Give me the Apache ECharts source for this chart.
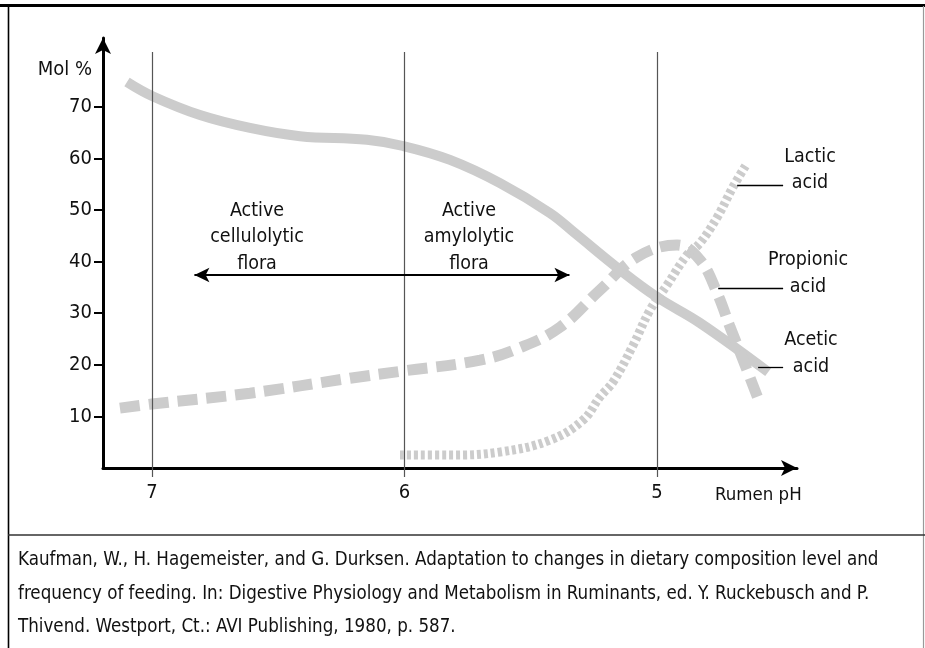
<!DOCTYPE html>
<html><head><meta charset="utf-8">
<script src="https://cdn.jsdelivr.net/npm/echarts@6/dist/echarts.min.js"></script>
<style>html,body{margin:0;padding:0;background:#fff}#c{width:925px;height:648px}</style>
</head><body><div id="c"></div>
<script>
// ---------- data ----------
const phTicks = [7, 6, 5];
const molTicks = [10, 20, 30, 40, 50, 60, 70];

const aceticPH  = [7.099, 7.0, 6.81, 6.612, 6.414, 6.149, 6.006, 5.82, 5.622, 5.424, 5.325, 5.147, 5.0, 4.83, 4.56];
const aceticMol = [74.8, 72.1, 68.4, 65.9, 64.3, 63.6, 62.4, 59.7, 55.2, 49.4, 45.5, 38.4, 33.1, 28.1, 18.6];

const propionicPH  = [7.127, 7.0, 6.612, 6.216, 6.006, 5.701, 5.543, 5.384, 5.226, 5.079, 4.921, 4.83, 4.762, 4.711, 4.659, 4.592];
const propionicMol = [11.6, 12.4, 14.5, 17.4, 18.8, 20.9, 23.3, 27.3, 34.5, 40.9, 43.2, 40.3, 33.9, 27.3, 20.9, 12.4];

const lacticPH  = [6.018, 5.82, 5.622, 5.424, 5.293, 5.226, 5.174, 5.095, 5.028, 4.96, 4.881, 4.83, 4.762, 4.699, 4.648];
const lacticMol = [2.5, 2.5, 3.1, 5.4, 9.3, 13.8, 16.7, 23.8, 30.6, 35.5, 41.3, 43.6, 48.6, 54.5, 58.7];

const guideTop = 80.6;                 // top of the vertical pH guide lines
const floraArrow = { fromPH: 6.832, toPH: 5.347, mol: 37.4 };
const leaders = [
  { name: 'Lactic acid',    fromPH: 4.683, toPH: 4.501, mol: 54.8 },
  { name: 'Propionic acid', fromPH: 4.758, toPH: 4.501, mol: 34.9 },
  { name: 'Acetic acid',    fromPH: 4.600, toPH: 4.501, mol: 19.6 }
];

const citation = [
  'Kaufman, W., H. Hagemeister, and G. Durksen. Adaptation to changes in dietary composition level and',
  'frequency of feeding. In: Digestive Physiology and Metabolism in Ruminants, ed. Y. Ruckebusch and P.',
  'Thivend. Westport, Ct.: AVI Publishing, 1980, p. 587.'
];

// ---------- chart ----------
const FONT = '"Liberation Sans Narrow","DejaVu Sans Condensed","Liberation Sans",sans-serif';
const CURVE = '#cccccc';
const zip = (a, b) => a.map((v, i) => [v, b[i]]);
const txt = (s, x, y, align, size, lh) => ({
  type: 'text', x: x, y: y, z: 50,
  style: { text: s, fill: '#111', font: size + 'px ' + FONT, textAlign: align, textVerticalAlign: 'middle', lineHeight: lh || size }
});

const chart = echarts.init(document.getElementById('c'), null, { renderer: 'canvas' });
chart.setOption({
  animation: false,
  backgroundColor: '#fff',
  grid: { left: 103, top: 38, width: 694, height: 430, containLabel: false },
  xAxis: {
    type: 'value', inverse: true, min: 4.446, max: 7.194,
    axisLine: { show: true, onZero: false, lineStyle: { color: '#000', width: 3 }, symbol: ['none', 'arrow'], symbolSize: [12, 16] },
    axisTick: { show: true, length: 9, inside: false, lineStyle: { color: '#555', width: 1.2 }, customValues: phTicks },
    axisLabel: { show: true, margin: 15, fontSize: 20, color: '#111', fontFamily: FONT, customValues: phTicks, formatter: v => String(v) },
    splitLine: { show: false }
  },
  yAxis: {
    type: 'value', min: 0, max: 83.33,
    axisLine: { show: true, onZero: false, lineStyle: { color: '#000', width: 3 }, symbol: ['none', 'arrow'], symbolSize: [12, 16] },
    axisTick: { show: true, length: 9, inside: false, lineStyle: { color: '#000', width: 2 }, customValues: molTicks },
    axisLabel: { show: true, margin: 11, fontSize: 20, color: '#111', fontFamily: FONT, customValues: molTicks },
    splitLine: { show: false }
  },
  series: [
    {
      name: 'Acetic acid', type: 'line', data: zip(aceticPH, aceticMol), smooth: 0.4, showSymbol: false, z: 3,
      lineStyle: { color: CURVE, width: 10, cap: 'butt' }
    },
    {
      name: 'Propionic acid', type: 'line', data: zip(propionicPH, propionicMol), smooth: 0.4, showSymbol: false, z: 3,
      lineStyle: { color: CURVE, width: 11, type: [20, 9], cap: 'butt' }
    },
    {
      name: 'Lactic acid', type: 'line', data: zip(lacticPH, lacticMol), smooth: 0.4, showSymbol: false, z: 3,
      lineStyle: { color: CURVE, width: 9, type: [4, 3], cap: 'butt' }
    },
    {
      name: 'guides', type: 'line', data: [], z: 5, silent: true,
      markLine: {
        silent: true, symbol: ['none', 'none'], label: { show: false },
        lineStyle: { color: '#555', width: 1.2, type: 'solid' },
        data: phTicks.map(p => [{ coord: [p, 0] }, { coord: [p, guideTop] }])
          .concat(leaders.map(l => [{ coord: [l.fromPH, l.mol], lineStyle: { color: '#000', width: 1.3 } }, { coord: [l.toPH, l.mol] }]))
      }
    },
    {
      name: 'flora', type: 'line', data: [], z: 6, silent: true,
      markLine: {
        silent: true, symbol: ['arrow', 'arrow'], symbolSize: [11, 15], label: { show: false },
        lineStyle: { color: '#000', width: 2, type: 'solid' },
        data: [[{ coord: [floraArrow.fromPH, floraArrow.mol] }, { coord: [floraArrow.toPH, floraArrow.mol] }]]
      }
    }
  ],
  graphic: [
    // frame
    { type: 'rect', shape: { x: 0, y: 4, width: 925, height: 3 }, style: { fill: '#000' }, z: 40 },
    { type: 'line', shape: { x1: 8.5, y1: 6, x2: 8.5, y2: 648 }, style: { stroke: '#000', lineWidth: 1.6 }, z: 40 },
    { type: 'line', shape: { x1: 923.5, y1: 6, x2: 923.5, y2: 648 }, style: { stroke: '#999', lineWidth: 1.2 }, z: 40 },
    { type: 'line', shape: { x1: 8, y1: 535, x2: 925, y2: 535 }, style: { stroke: '#333', lineWidth: 1.5 }, z: 40 },
    // axis titles
    txt('Mol %', 92, 70, 'right', 20),
    txt('Rumen pH', 715, 495, 'left', 18.5),
    // flora annotations
    txt('Active\ncellulolytic\nflora', 257, 237, 'center', 19.5, 26.5),
    txt('Active\namylolytic\nflora', 469, 237, 'center', 19.5, 26.5),
    // curve labels
    txt('Lactic\nacid', 810, 170, 'center', 19.5, 26),
    txt('Propionic\nacid', 808, 273.5, 'center', 19.5, 27),
    txt('Acetic\nacid', 811, 353.5, 'center', 19.5, 27),
    // citation
    txt(citation.join('\n'), 18, 594, 'left', 18.6, 33.5)
  ]
});
</script>
</body></html>
